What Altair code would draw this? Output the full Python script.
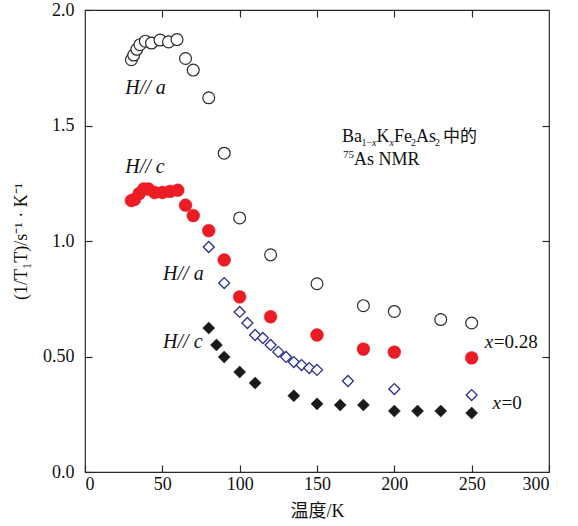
import altair as alt
import pandas as pd

# 75As NMR spin-lattice relaxation, 1/(T1 T), in Ba(1-x)K(x)Fe2As2
# x = 0.28, H // a (open circles)
T_a28 = [30, 31.5, 33.5, 35.5, 39, 43, 48.5, 54, 59.5, 65, 70, 80, 90, 100, 120, 150, 180, 200, 230, 250]
R_a28 = [1.785, 1.805, 1.83, 1.85, 1.865, 1.857, 1.87, 1.862, 1.872, 1.79, 1.74, 1.62, 1.38, 1.10, 0.94,
         0.815, 0.72, 0.695, 0.66, 0.645]
# x = 0.28, H // c (filled red circles)
T_c28 = [30, 32, 35, 38, 41, 45, 50, 55, 60, 65, 70, 80, 90, 100, 120, 150, 180, 200, 250]
R_c28 = [1.175, 1.18, 1.205, 1.225, 1.225, 1.21, 1.21, 1.215, 1.22, 1.155, 1.11, 1.045, 0.918, 0.758,
         0.672, 0.593, 0.532, 0.519, 0.494]
# x = 0, H // a (open blue diamonds)
T_a0 = [80, 90, 100, 105, 110, 115, 120, 125, 130, 135, 140, 145, 150, 170, 200, 250]
R_a0 = [0.974, 0.818, 0.693, 0.645, 0.593, 0.58, 0.55, 0.52, 0.498, 0.476, 0.463, 0.45, 0.442, 0.394,
        0.359, 0.333]
# x = 0, H // c (filled black diamonds)
T_c0 = [80, 85, 90, 100, 110, 135, 150, 165, 180, 200, 215, 230, 250]
R_c0 = [0.623, 0.55, 0.498, 0.433, 0.385, 0.33, 0.295, 0.29, 0.29, 0.264, 0.264, 0.264, 0.255]

x_ticks = [0, 50, 100, 150, 200, 250, 300]
y_ticks = [0, 0.5, 1.0, 1.5, 2.0]
x_ticks_top = [50, 100, 150, 200, 250]
y_ticks_right = [0.5, 1.0, 1.5]

SERIF = "Liberation Serif"
CJK = "Noto Sans CJK SC"
INK = "#2b2b2b"
RED = "#ec1c24"
BLUE = "#2b3192"

W, H = 464, 462
TICK = 7

x_scale = alt.Scale(domain=[0, 300], nice=False, zero=False)
y_scale = alt.Scale(domain=[0, 2.0], nice=False, zero=False)


def inner_axis(orient, values, labels=True, **kw):
    # ticks drawn inside the frame: the axis is pulled inward by the tick length
    return alt.Axis(orient=orient, values=values, tickSize=TICK, offset=-TICK, domain=False,
                    grid=False, tickColor=INK, tickWidth=1.2, labels=labels,
                    labelFont=SERIF, labelFontSize=18, labelColor="#111",
                    titleFont=f"{SERIF}, {CJK}", titleFontSize=18, titleFontWeight="normal",
                    titleColor="#111", **kw)


anchor = pd.DataFrame({"T": [0], "R": [0]})

main_axes = alt.Chart(anchor).mark_point(opacity=0).encode(
    x=alt.X("T:Q", scale=x_scale,
            axis=inner_axis("bottom", x_ticks, labelPadding=3, title="温度/K", titlePadding=9)),
    y=alt.Y("R:Q", scale=y_scale,
            axis=inner_axis("left", y_ticks, labelPadding=11, title="(1/T₁T)/s⁻¹ · K⁻¹",
                            titlePadding=12,
                            labelExpr="datum.value == 0.5 ? '0.50' : format(datum.value, '.1f')")),
)

mirror_axes = alt.Chart(anchor).mark_point(opacity=0).encode(
    x=alt.X("T:Q", scale=x_scale, axis=inner_axis("top", x_ticks_top, labels=False, title=None)),
    y=alt.Y("R:Q", scale=y_scale, axis=inner_axis("right", y_ticks_right, labels=False, title=None)),
)


def series(T, R, shape, fill, stroke, size, sw=1.2):
    df = pd.DataFrame({"T": T, "R": R})
    return alt.Chart(df).mark_point(shape=shape, filled=True, fill=fill, stroke=stroke,
                                    strokeWidth=sw, size=size, opacity=1).encode(
        x=alt.X("T:Q", scale=x_scale, axis=None),
        y=alt.Y("R:Q", scale=y_scale, axis=None),
    )


def label(T, R, text, size=20, italic=False, dx=0, dy=0, font=SERIF):
    df = pd.DataFrame({"T": [T], "R": [R], "t": [text]})
    return alt.Chart(df).mark_text(align="left", baseline="alphabetic", dx=dx, dy=dy,
                                   fontSize=size, font=font, color="#111",
                                   fontStyle="italic" if italic else "normal").encode(
        x=alt.X("T:Q", scale=x_scale, axis=None),
        y=alt.Y("R:Q", scale=y_scale, axis=None),
        text="t:N",
    )


marks = [
    series(T_a28, R_a28, "circle", "white", INK, 140),
    series(T_c28, R_c28, "circle", RED, RED, 165, 0.5),
    series(T_a0, R_a0, "diamond", "white", BLUE, 120, 1.3),
    series(T_c0, R_c0, "diamond", "#1a1a1a", "#1a1a1a", 145, 0.5),
]

# field-direction and doping labels beside each curve
texts = [
    label(26, 1.636, "H// a", italic=True),
    label(26, 1.294, "H// c", italic=True),
    label(50.5, 0.831, "H// a", italic=True),
    label(50.5, 0.537, "H// c", italic=True),
    label(258.5, 0.537, "x", size=19, italic=True),
    label(258.5, 0.537, "=0.28", size=19, dx=9),
    label(263.5, 0.273, "x", size=19, italic=True),
    label(263.5, 0.273, "=0", size=19, dx=9),
]

# compound formula with sub- and superscripts, built piece by piece
fx, fy1, fy2 = 166.2, 1.4286, 1.329
formula = [
    ("Ba", 18, False, 0, 0, SERIF),
    ("1−", 10, False, 19.5, 4, SERIF),
    ("x", 10, True, 30, 4, SERIF),
    ("K", 18, False, 34.5, 0, SERIF),
    ("x", 10, True, 47.5, 4, SERIF),
    ("Fe", 18, False, 52, 0, SERIF),
    ("2", 10, False, 69, 4, SERIF),
    ("As", 18, False, 74, 0, SERIF),
    ("2", 10, False, 93, 4, SERIF),
    ("中的", 17, False, 101, 0, CJK),
]
for t, s, it, dx, dy, f in formula:
    texts.append(label(fx, fy1, t, size=s, italic=it, dx=dx, dy=dy, font=f))
texts.append(label(fx, fy2, "75", size=11, dx=1, dy=-7))
texts.append(label(fx, fy2, "As NMR", size=18, dx=12))

chart = alt.layer(main_axes, mirror_axes, *marks, *texts).resolve_axis(
    x="independent", y="independent"
).properties(
    width=W, height=H,
    autosize=alt.AutoSizeParams(type="none"),
    padding={"left": 85, "top": 10, "right": 29, "bottom": 54},
    background="white",
).configure_view(stroke=INK, strokeWidth=1.2)

chart.save("out.html", embed_options={"renderer": "svg", "actions": False})
